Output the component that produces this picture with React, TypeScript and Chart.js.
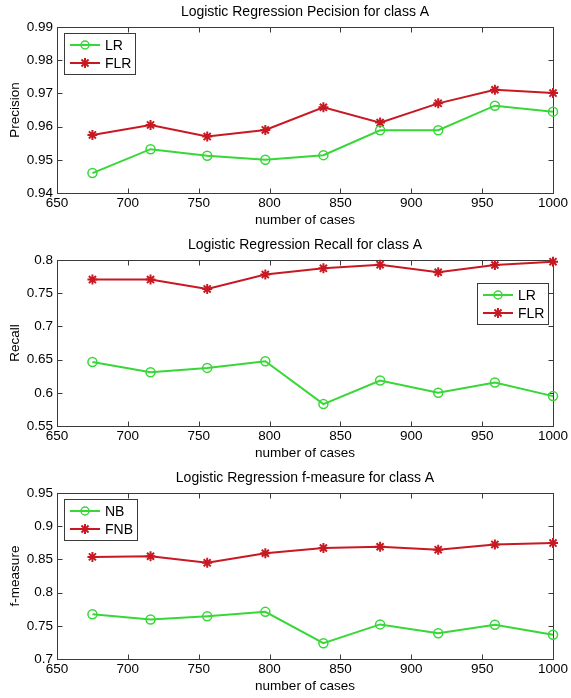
import React, { useEffect, useRef } from 'react';
import { Chart, registerables } from 'chart.js';

Chart.register(...registerables);

// ---- data ----
const xCases = [675, 716, 756, 797, 838, 878, 919, 959, 1000];
const xTicks = [650, 700, 750, 800, 850, 900, 950, 1000];

const precisionLR = [0.946, 0.9532, 0.9512, 0.95, 0.9514, 0.9589, 0.9589, 0.9663, 0.9645];
const precisionFLR = [0.9575, 0.9605, 0.957, 0.959, 0.9658, 0.9612, 0.967, 0.9711, 0.9701];
const precisionTicks = [0.94, 0.95, 0.96, 0.97, 0.98, 0.99];

const recallLR = [0.6465, 0.631, 0.6375, 0.6475, 0.583, 0.6185, 0.6, 0.6155, 0.595];
const recallFLR = [0.7705, 0.7705, 0.7565, 0.778, 0.7875, 0.793, 0.7815, 0.7925, 0.7975];
const recallTicks = [0.55, 0.6, 0.65, 0.7, 0.75, 0.8];

const fmeasureNB = [0.7675, 0.7595, 0.7645, 0.771, 0.7238, 0.7521, 0.7387, 0.7516, 0.7366];
const fmeasureFNB = [0.8538, 0.8548, 0.8448, 0.8592, 0.8672, 0.8691, 0.8647, 0.8726, 0.8746];
const fmeasureTicks = [0.7, 0.75, 0.8, 0.85, 0.9, 0.95];

// ---- style ----
const GREEN = 'rgb(55,215,55)';
const RED = 'rgb(200,25,35)';
const AXIS = '#3a3a3a';
const FONT = "'Liberation Sans', Arial, Helvetica, sans-serif";

type Series = { label: string; values: number[]; kind: 'circle' | 'star' };
type Panel = {
  title: string;
  yLabel: string;
  yTicks: number[];
  series: Series[];
  legendSide: 'left' | 'right';
};

const panels: Panel[] = [
  {
    title: 'Logistic Regression Pecision for class A',
    yLabel: 'Precision',
    yTicks: precisionTicks,
    series: [
      { label: 'LR', values: precisionLR, kind: 'circle' },
      { label: 'FLR', values: precisionFLR, kind: 'star' },
    ],
    legendSide: 'left',
  },
  {
    title: 'Logistic Regression Recall for class A',
    yLabel: 'Recall',
    yTicks: recallTicks,
    series: [
      { label: 'LR', values: recallLR, kind: 'circle' },
      { label: 'FLR', values: recallFLR, kind: 'star' },
    ],
    legendSide: 'right',
  },
  {
    title: 'Logistic Regression f-measure for class A',
    yLabel: 'f-measure',
    yTicks: fmeasureTicks,
    series: [
      { label: 'NB', values: fmeasureNB, kind: 'circle' },
      { label: 'FNB', values: fmeasureFNB, kind: 'star' },
    ],
    legendSide: 'left',
  },
];

function drawMarker(ctx: CanvasRenderingContext2D, kind: string, x: number, y: number, color: string) {
  ctx.save();
  ctx.strokeStyle = color;
  if (kind === 'circle') {
    ctx.lineWidth = 1.5;
    ctx.beginPath();
    ctx.arc(x, y, 4, 0, Math.PI * 2);
    ctx.stroke();
  } else {
    ctx.lineWidth = 2;
    const r = 5;
    ctx.beginPath();
    for (let k = 0; k < 4; k++) {
      const ang = (k * Math.PI) / 4;
      ctx.moveTo(x - r * Math.cos(ang), y - r * Math.sin(ang));
      ctx.lineTo(x + r * Math.cos(ang), y + r * Math.sin(ang));
    }
    ctx.stroke();
  }
  ctx.restore();
}

const framePlugin = {
  id: 'matlabFrame',
  beforeDatasetsDraw(chart: any) {
    const { ctx, chartArea: a, scales } = chart;
    ctx.save();
    ctx.strokeStyle = AXIS;
    ctx.lineWidth = 1;
    const l = Math.round(a.left) + 0.5;
    const t = Math.round(a.top) + 0.5;
    const r = Math.round(a.right) + 0.5;
    const b = Math.round(a.bottom) + 0.5;
    ctx.strokeRect(l, t, r - l, b - t);
    const L = 5;
    ctx.beginPath();
    scales.x.ticks.forEach((tk: any) => {
      const px = Math.round(scales.x.getPixelForValue(tk.value)) + 0.5;
      ctx.moveTo(px, b);
      ctx.lineTo(px, b - L);
      ctx.moveTo(px, t);
      ctx.lineTo(px, t + L);
    });
    scales.y.ticks.forEach((tk: any) => {
      const py = Math.round(scales.y.getPixelForValue(tk.value)) + 0.5;
      ctx.moveTo(l, py);
      ctx.lineTo(l + L, py);
      ctx.moveTo(r, py);
      ctx.lineTo(r - L, py);
    });
    ctx.stroke();
    ctx.restore();
  },
};

const legendPlugin = {
  id: 'matlabLegend',
  afterDatasetsDraw(chart: any, _args: any, opts: any) {
    const { ctx, chartArea: a } = chart;
    const ds = chart.data.datasets;
    ctx.save();
    ctx.font = `14px ${FONT}`;
    const textW = Math.max(...ds.map((d: any) => ctx.measureText(d.label).width));
    const w = Math.round(41 + textW + 4);
    const h = 41;
    const bx = Math.round(opts.side === 'right' ? a.right - 5 - w : a.left + 7);
    const by = Math.round(opts.side === 'right' ? a.top + 23 : a.top + 6);
    ctx.fillStyle = '#ffffff';
    ctx.fillRect(bx, by, w, h);
    ctx.strokeStyle = AXIS;
    ctx.lineWidth = 1;
    ctx.strokeRect(bx + 0.5, by + 0.5, w, h);
    ds.forEach((d: any, i: number) => {
      const y = by + 12 + i * 18;
      ctx.strokeStyle = d.borderColor;
      ctx.lineWidth = 2;
      ctx.beginPath();
      ctx.moveTo(bx + 6, y);
      ctx.lineTo(bx + 36, y);
      ctx.stroke();
      drawMarker(ctx, d.markerKind, bx + 21, y, d.borderColor);
      ctx.fillStyle = '#000';
      ctx.textBaseline = 'middle';
      ctx.textAlign = 'left';
      ctx.fillText(d.label, bx + 41, y + 1);
    });
    ctx.restore();
  },
};

const fmt = (v: number) => String(Number(Number(v).toFixed(2)));

function PanelChart({ panel, top }: { panel: Panel; top: number }) {
  const ref = useRef<HTMLCanvasElement | null>(null);
  useEffect(() => {
    if (!ref.current) return;
    const font = { family: FONT, size: 13.5, weight: 'normal' as const };
    const titleFont = { family: FONT, size: 14, weight: 'normal' as const };
    const chart = new Chart(ref.current, {
      type: 'line',
      data: {
        datasets: panel.series.map((s) => ({
          label: s.label,
          markerKind: s.kind,
          data: xCases.map((x, i) => ({ x, y: s.values[i] })),
          borderColor: s.kind === 'circle' ? GREEN : RED,
          backgroundColor: 'transparent',
          borderWidth: 2,
          tension: 0,
          pointStyle: s.kind === 'circle' ? 'circle' : 'star',
          pointRadius: s.kind === 'circle' ? 4.5 : 5,
          pointBorderWidth: s.kind === 'circle' ? 1.5 : 2,
          pointBackgroundColor: 'transparent',
          pointBorderColor: s.kind === 'circle' ? GREEN : RED,
          clip: false,
        })) as any,
      },
      options: {
        animation: false,
        responsive: false,
        maintainAspectRatio: false,
        events: [],
        layout: { padding: { left: 0, right: 18, top: 0, bottom: 0 } },
        plugins: {
          legend: { display: false },
          tooltip: { enabled: false },
          title: {
            display: true,
            fullSize: false,
            text: panel.title,
            color: '#000',
            font: titleFont,
            padding: { top: 4, bottom: 6.2 },
          },
          matlabLegend: { side: panel.legendSide },
        } as any,
        scales: {
          x: {
            type: 'linear',
            min: xTicks[0],
            max: xTicks[xTicks.length - 1],
            afterBuildTicks: (scale: any) => {
              scale.ticks = xTicks.map((v) => ({ value: v }));
            },
            ticks: {
              color: '#000',
              font,
              padding: 2,
              maxRotation: 0,
              autoSkip: false,
              callback: (v: any) => String(v),
            },
            grid: { display: false, drawTicks: false },
            border: { display: false },
            title: {
              display: true,
              text: 'number of cases',
              color: '#000',
              font,
              padding: { top: 0, bottom: 3.9 },
            },
            afterFit: (scale: any) => {
              scale.height = 39;
            },
          },
          y: {
            type: 'linear',
            min: panel.yTicks[0],
            max: panel.yTicks[panel.yTicks.length - 1],
            afterBuildTicks: (scale: any) => {
              scale.ticks = panel.yTicks.map((v) => ({ value: v }));
            },
            ticks: {
              color: '#000',
              font,
              padding: 4,
              autoSkip: false,
              callback: (v: any) => fmt(v),
            },
            grid: { display: false, drawTicks: false },
            border: { display: false },
            title: {
              display: true,
              text: panel.yLabel,
              color: '#000',
              font,
              padding: { top: 7, bottom: 0 },
            },
            afterFit: (scale: any) => {
              scale.width = 57;
            },
          },
        },
      } as any,
      plugins: [framePlugin, legendPlugin],
    });
    return () => chart.destroy();
  }, [panel]);
  return (
    <canvas
      ref={ref}
      width={571}
      height={232}
      style={{ position: 'absolute', left: 0, top, width: 571, height: 232 }}
    />
  );
}

export default function App() {
  return (
    <div
      style={{
        position: 'absolute',
        left: 0,
        top: 0,
        width: 571,
        height: 698,
        overflow: 'hidden',
        background: '#fff',
      }}
    >
      <PanelChart panel={panels[0]} top={0} />
      <PanelChart panel={panels[1]} top={233} />
      <PanelChart panel={panels[2]} top={466} />
    </div>
  );
}
